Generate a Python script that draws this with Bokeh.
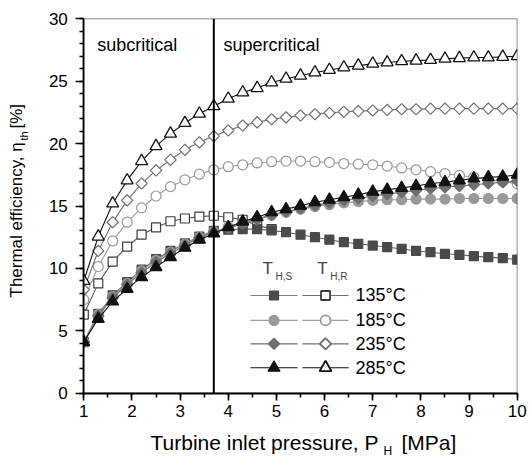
import math
from bokeh.plotting import figure
from bokeh.models import Range1d, SingleIntervalTicker, Label, BoxAnnotation
from bokeh.embed import file_html
from bokeh.resources import INLINE

# ---------------- data ----------------
pressure = [1.0, 1.3, 1.6, 1.9, 2.2, 2.5, 2.8, 3.1, 3.4, 3.7, 4.0, 4.3, 4.6, 4.9,
            5.2, 5.5, 5.8, 6.1, 6.4, 6.7, 7.0, 7.3, 7.6, 7.9, 8.2, 8.5, 8.8,
            9.1, 9.4, 9.7, 10.0]

# T_H,S (filled markers)
eta_s_135 = [4.1, 6.35, 7.85, 8.9, 9.9, 10.75, 11.4, 12.0, 12.55, 13.0, 13.1, 13.15,
             13.15, 13.05, 12.9, 12.7, 12.5, 12.3, 12.1, 11.97, 11.83, 11.7, 11.57,
             11.4, 11.3, 11.17, 11.09, 10.98, 10.9, 10.82, 10.7]
eta_s_185 = [4.1, 6.3, 7.75, 8.8, 9.8, 10.65, 11.3, 11.95, 12.5, 12.95, 13.3, 13.65,
             13.95, 14.25, 14.5, 14.75, 14.95, 15.1, 15.25, 15.35, 15.45, 15.5, 15.5,
             15.55, 15.55, 15.55, 15.6, 15.6, 15.6, 15.6, 15.6]
eta_s_235 = [4.1, 6.2, 7.65, 8.7, 9.65, 10.5, 11.2, 11.85, 12.45, 12.9, 13.2, 13.6,
             13.95, 14.3, 14.55, 14.8, 15.05, 15.25, 15.45, 15.6, 15.8, 15.95, 16.1,
             16.25, 16.4, 16.5, 16.6, 16.7, 16.8, 16.9, 17.0]
eta_s_285 = [4.1, 5.96, 7.35, 8.36, 9.3, 10.1, 10.9, 11.65, 12.3, 12.8, 13.3, 13.75,
             14.1, 14.5, 14.75, 15.02, 15.3, 15.5, 15.7, 15.9, 16.15, 16.3, 16.45,
             16.6, 16.8, 16.9, 17.05, 17.2, 17.3, 17.35, 17.5]

# T_H,R (open markers)
pressure_r135 = [1.0, 1.3, 1.6, 1.9, 2.2, 2.5, 2.8, 3.1, 3.4, 3.7, 4.0, 4.3, 4.6, 4.9]
eta_r_135 = [6.3, 8.8, 10.55, 11.75, 12.7, 13.28, 13.78, 14.0, 14.15, 14.22, 14.1,
             13.9, 13.45, 13.15]
eta_r_185 = [7.5, 10.15, 12.2, 13.7, 14.85, 15.8, 16.55, 17.1, 17.55, 17.9, 18.15,
             18.3, 18.45, 18.55, 18.6, 18.6, 18.55, 18.5, 18.4, 18.35, 18.3, 18.2,
             18.05, 17.9, 17.75, 17.6, 17.45, 17.3, 17.1, 16.95, 16.8]
eta_r_235 = [8.3, 11.4, 13.7, 15.45, 16.8, 17.85, 18.7, 19.5, 20.1, 20.6, 21.05,
             21.45, 21.7, 21.95, 22.1, 22.25, 22.35, 22.45, 22.55, 22.6, 22.65, 22.7,
             22.75, 22.75, 22.8, 22.8, 22.8, 22.8, 22.8, 22.8, 22.8]
eta_r_285 = [9.0, 12.55, 15.2, 17.05, 18.6, 19.8, 20.8, 21.65, 22.4, 23.0, 23.6,
             24.1, 24.45, 24.9, 25.2, 25.45, 25.7, 25.9, 26.1, 26.25, 26.4, 26.5,
             26.6, 26.65, 26.7, 26.8, 26.85, 26.9, 26.9, 26.95, 27.0]

critical_pressure = 3.7
legend_temps = ["135°C", "185°C", "235°C", "285°C"]
x_lim = (1, 10)
y_lim = (0, 30)
x_ticks_interval = 1
y_ticks_interval = 5

FONT = "Liberation Sans"
W, H = 530, 458
# pixel box of the plotting area inside the canvas
PL, PR, PT, PB = 83.3, 516.7, 18.3, 392.7
sx_ = (PR - PL) / (x_lim[1] - x_lim[0])
sy_ = (PB - PT) / (y_lim[1] - y_lim[0])
xr = Range1d(x_lim[0] - PL / sx_, x_lim[1] + (W - PR) / sx_)
yr = Range1d(y_lim[0] - (H - PB) / sy_, y_lim[1] + PT / sy_)

p = figure(width=W, height=H, title=None, x_range=xr, y_range=yr,
           output_backend="svg", toolbar_location=None,
           min_border_left=0, min_border_right=0, min_border_top=0, min_border_bottom=0)
p.background_fill_color = "white"
p.border_fill_color = "white"
p.outline_line_color = None
p.xgrid.visible = False
p.ygrid.visible = False

p.xaxis.ticker = SingleIntervalTicker(interval=x_ticks_interval, num_minor_ticks=2)
p.yaxis.ticker = SingleIntervalTicker(interval=y_ticks_interval, num_minor_ticks=5)
p.xaxis.fixed_location = y_lim[0]
p.yaxis.fixed_location = x_lim[0]
p.xaxis.bounds = x_lim
p.yaxis.bounds = y_lim
for ax in (p.xaxis[0], p.yaxis[0]):
    ax.axis_line_width = 1.8
    ax.axis_line_color = "black"
    ax.major_tick_line_width = 1.5
    ax.minor_tick_line_width = 1.5
    ax.major_tick_line_color = "black"
    ax.minor_tick_line_color = "black"
    ax.major_tick_in = 0
    ax.minor_tick_in = 0
    ax.major_label_text_font = FONT
    ax.major_label_text_font_size = "17px"
    ax.major_label_text_color = "black"
p.xaxis.major_tick_out = 7
p.xaxis.minor_tick_out = 4
p.yaxis.major_tick_out = 8
p.yaxis.minor_tick_out = 4
p.xaxis.major_label_standoff = 5
p.yaxis.major_label_standoff = 8


def draw(xs, ys, marker, fill, outline, lcolor, size, angle=0.0, lw=1.2):
    p.line(xs, ys, line_color=lcolor, line_width=1.1)
    p.scatter(xs, ys, marker=marker, size=size, fill_color=fill, line_color=outline,
              line_width=lw, angle=angle)


# open (T_H,R) series
draw(pressure_r135, eta_r_135, "square", "white", "#3c3c3c", "#555555", 9)
draw(pressure, eta_r_185, "circle", "white", "#9a9a9a", "#9a9a9a", 10)
draw(pressure, eta_r_235, "square", "white", "#707070", "#707070", 8, angle=math.pi / 4)
draw(pressure, eta_r_285, "triangle", "white", "#111111", "#111111", 12, lw=1.3)

# filled (T_H,S) series
draw(pressure, eta_s_135, "square", "#4a4a4a", "#4a4a4a", "#666666", 9)
draw(pressure, eta_s_185, "circle", "#9a9a9a", "#9a9a9a", "#9a9a9a", 10)
draw(pressure, eta_s_235, "square", "#6e6e6e", "#6e6e6e", "#6e6e6e", 8, angle=math.pi / 4)
draw(pressure, eta_s_285, "triangle", "#111111", "#111111", "#111111", 12)

# clip marks at the plotting-area edges (masks drawn below the axes)
p.add_layout(BoxAnnotation(left=xr.start, right=x_lim[0], bottom=y_lim[0], top=y_lim[1],
                           fill_color="white", fill_alpha=1, line_color=None, level="glyph"))
p.add_layout(BoxAnnotation(left=x_lim[1], right=xr.end, bottom=y_lim[0], top=y_lim[1],
                           fill_color="white", fill_alpha=1, line_color=None, level="glyph"))

# plot-area box (top / right borders)
p.add_layout(BoxAnnotation(left=x_lim[0], right=x_lim[1], bottom=y_lim[0], top=y_lim[1],
                           fill_alpha=0, line_color="black", line_width=1.5))

# sub/supercritical divider
p.segment(x0=[critical_pressure], y0=[y_lim[0]], x1=[critical_pressure], y1=[y_lim[1]],
          line_color="black", line_width=2)

# region texts
p.add_layout(Label(x=1.28, y=27.06, text="subcritical", text_font=FONT,
                   text_font_size="18px", text_color="black"))
p.add_layout(Label(x=3.9, y=27.06, text="supercritical", text_font=FONT,
                   text_font_size="18px", text_color="black"))

# ---------------- legend (manual) ----------------
leg_rows = [7.83, 5.83, 3.96, 2.04]
fx0, fx1, fxm = 4.46, 5.44, 4.95
hx0, hx1, hxm = 5.54, 6.50, 6.02
tx = 6.64
styles_s = [("square", "#4a4a4a", "#4a4a4a", "#808080", 9, 0.0),
            ("circle", "#9a9a9a", "#9a9a9a", "#a0a0a0", 10, 0.0),
            ("square", "#6e6e6e", "#6e6e6e", "#707070", 8, math.pi / 4),
            ("triangle", "#111111", "#111111", "#111111", 12, 0.0)]
styles_r = [("square", "white", "#3c3c3c", "#707070", 9, 0.0),
            ("circle", "white", "#9a9a9a", "#a0a0a0", 10, 0.0),
            ("square", "white", "#6e6e6e", "#707070", 8, math.pi / 4),
            ("triangle", "white", "#111111", "#111111", 12, 0.0)]
for yy, ss, sr, lab in zip(leg_rows, styles_s, styles_r, legend_temps):
    m, f, o, lc, s, a = ss
    p.line([fx0, fx1], [yy, yy], line_color=lc, line_width=1.2)
    p.scatter([fxm], [yy], marker=m, size=s, fill_color=f, line_color=o, angle=a, line_width=1.2)
    m, f, o, lc, s, a = sr
    p.line([hx0, hx1], [yy, yy], line_color=lc, line_width=1.2)
    p.scatter([hxm], [yy], marker=m, size=s, fill_color=f, line_color=o, angle=a, line_width=1.8)
    p.add_layout(Label(x=tx, y=yy, text=lab, text_font=FONT, text_font_size="18px",
                       text_baseline="middle", text_color="black"))

p.add_layout(Label(x=4.71, y=9.27, text="T", text_font=FONT, text_font_size="17px"))
p.add_layout(Label(x=4.98, y=8.89, text="H,S", text_font=FONT, text_font_size="10px"))
p.add_layout(Label(x=5.85, y=9.27, text="T", text_font=FONT, text_font_size="17px"))
p.add_layout(Label(x=6.12, y=8.89, text="H,R", text_font=FONT, text_font_size="10px"))


# ---------------- axis titles (canvas pixel positions) ----------------
def slabel(px, py, text, size, angle=0.0):
    p.add_layout(Label(x=px, y=H - py, x_units="screen", y_units="screen", text=text,
                       angle=angle, text_font=FONT, text_font_size=size,
                       text_color="black"))


slabel(150, 453, "Turbine inlet pressure, P", "21px")
slabel(383, 457, "H", "12px")
slabel(401, 453, "[MPa]", "21px")
slabel(25, 297, "Thermal efficiency, η", "17px", math.pi / 2)
slabel(29, 140, "th", "11px", math.pi / 2)
slabel(25, 128, " [%]", "17px", math.pi / 2)

open("out.html", "w").write(file_html(p, INLINE))
